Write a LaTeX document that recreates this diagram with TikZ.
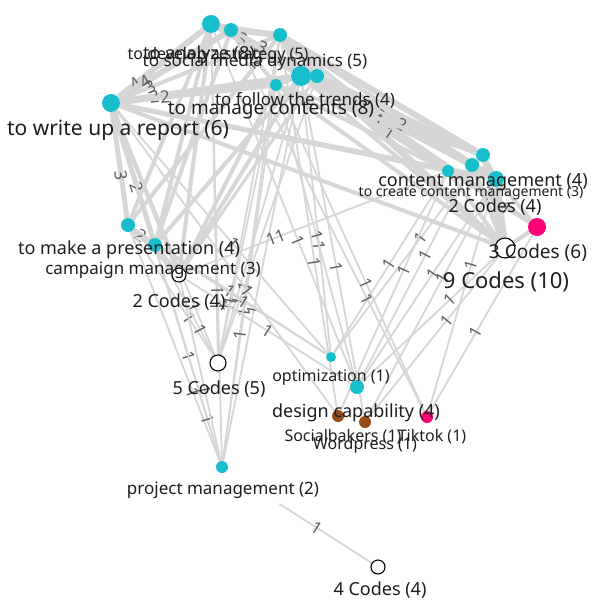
\documentclass[tikz,border=0pt]{standalone}
\usepackage{fontspec}
\setmainfont{Noto Sans}
\usetikzlibrary{backgrounds}
\definecolor{codecyan}{RGB}{23,190,204}
\definecolor{toolpink}{RGB}{255,0,120}
\definecolor{toolbrown}{RGB}{150,75,20}
\definecolor{linkgray}{RGB}{214,214,214}
\definecolor{numgray}{RGB}{95,95,95}
\definecolor{lblblack}{RGB}{30,30,30}

\begin{document}
\begin{tikzpicture}[x=1pt,y=-1pt,
  code/.style={circle,fill=codecyan,inner sep=0,minimum size=#1},
  tool/.style={circle,fill=toolpink,inner sep=0,minimum size=#1},
  soft/.style={circle,fill=toolbrown,inner sep=0,minimum size=#1},
  group/.style={circle,draw=black,fill=white,line width=1.1pt,inner sep=0,minimum size=#1},
  link/.style={draw=linkgray,line width=#1},
  num/.style={text=numgray,font=\fontsize{17}{17}\selectfont,inner sep=1pt,sloped},
  lbl/.style={text=lblblack,font=\fontsize{#1}{#1}\selectfont,inner sep=0}]
\useasboundingbox (0,0) rectangle (592,600);
% codes
\node[code=18] (analyze) at (211,24) {}; \node[code=14] (strategy) at (231,30) {};
\node[code=14] (social) at (280,35) {};
\node[code=20] (manage) at (301,76) {}; \node[code=14] (follow) at (317,76) {};
\node[code=12] (adapt) at (276,85) {};
\node[code=18] (report) at (111,103) {};
\node[code=14] (cmA) at (483,155) {}; \node[code=14] (cmB) at (472,165) {};
\node[code=12] (create) at (448,171) {}; \node[code=16] (content) at (496,179) {};
\node[code=14] (slides) at (128,225) {}; \node[code=14] (present) at (155,245) {};
\node[code=10] (optim) at (331,357) {}; \node[code=14] (design) at (357,387) {};
\node[code=12] (project) at (222,467) {};
% tools
\node[tool=18] (pinktool) at (537,227) {}; \node[tool=12] (tiktok) at (427,417) {};
\node[soft=12] (socialb) at (338,416) {}; \node[soft=12] (wordp) at (365,422) {};
% code groups
\node[group=14] (campaign) at (179,275) {};
\node[group=16] (five) at (218,363) {};
\node[group=20] (nine) at (505,248) {};
\node[group=14] (four) at (378,567) {};

\begin{scope}[on background layer]
% heavy links in the top cluster
\foreach \a/\b/\w in {analyze/strategy/6,analyze/social/4,strategy/social/6,analyze/manage/5,
  strategy/manage/5,social/manage/6,social/follow/5,adapt/manage/4,manage/follow/4,
  analyze/cmA/5,strategy/cmB/5,social/cmA/6,social/content/4,manage/cmA/7,manage/cmB/6,
  follow/content/7,follow/create/5,adapt/create/4,report/content/5,report/create/4,
  analyze/content/4,strategy/create/4,cmA/cmB/4,cmB/content/4,cmA/content/4,create/content/4,
  cmA/nine/5,cmB/nine/5,content/nine/7,create/nine/4,pinktool/nine/4,content/pinktool/4,
  manage/nine/4,report/nine/4,follow/nine/5,social/nine/4,adapt/nine/4,
  analyze/slides/4,analyze/present/4,strategy/present/4,social/slides/4,manage/present/4,
  manage/campaign/4,follow/campaign/3,adapt/campaign/4,analyze/campaign/4,report/campaign/4,
  slides/campaign/3,present/campaign/4}
  \draw[link=\w pt] (\a) -- (\b);
% labelled heavy links
\foreach \a/\b/\w/\t/\p in {report/analyze/6/4/.2,report/strategy/6/4/.25,report/social/4/3/.2,
  report/manage/7/2/.2,report/adapt/5/2/.3,report/slides/5/3/.6,report/present/5/2/.6,
  slides/present/4/2/.5,analyze/follow/4/3/.25,strategy/follow/4/3/.35,strategy/adapt/4/2/.6,
  social/create/4/2/.6,follow/cmB/4/2/.55,adapt/cmA/4/1/.5,manage/create/4/1/.6,
  follow/pinktool/4/2/.8,create/pinktool/4/1/.7}
  \draw[link=\w pt] (\a) -- node[num,pos=\p] {\t} (\b);
% thin links to the lower codes
\foreach \a/\b/\t/\p in {analyze/five/1/.85,social/five/1/.85,manage/five/1/.8,adapt/five/1/.8,
  report/five/1/.8,follow/five/1/.75,slides/five/1/.7,present/five/1/.75,
  analyze/project/1/.6,manage/project/1/.6,report/project/1/.7,slides/project/1/.7,
  present/project/1/.8,campaign/project/1/.6,adapt/project/1/.6,social/project/1/.7,
  manage/optim/1/.6,report/optim/1/.55,slides/optim/1/.5,present/optim/1/.5,cmA/optim/1/.4,
  create/optim/1/.5,adapt/design/1/.5,analyze/design/1/.6,cmB/design/1/.4,content/design/1/.45,
  campaign/design/1/.5,report/socialb/1/.6,social/socialb/1/.6,create/socialb/1/.4,
  manage/wordp/1/.55,content/wordp/1/.4,pinktool/tiktok/1/.55,content/tiktok/1/.35,
  strategy/tiktok/1/.7,adapt/tiktok/1/.6,nine/design/1/.35,nine/wordp/1/.4,campaign/create/11/.35}
  \draw[link=1.8pt] (\a) -- node[num,pos=\p] {\t} (\b);
\draw[link=1.8pt,shorten <=62pt] (project) -- node[num,pos=.62] {1} (four);
\end{scope}

% labels
\node[lbl=16] (t-strategy) at (218,55) {to develop a strategy (5)};
\node[lbl=18] (t-analyze) at (199,55) {to analyze (8)};
\node[lbl=17] (t-social) at (255,62) {to social media dynamics (5)};
\node[lbl=17] (t-follow) at (305,100) {to follow the trends (4)};
\node[lbl=19] (t-manage) at (271,110) {to manage contents (8)};
\node[lbl=21] (t-report) at (118,130) {to write up a report (6)};
\node[lbl=18] (t-content) at (483,182) {content management (4)};
\node[lbl=14] (t-create) at (471,193) {to create content management (3)};
\node[lbl=18] (t-twoR) at (495,207) {2 Codes (4)};
\node[lbl=19] (t-three) at (538,253) {3 Codes (6)};
\node[lbl=22] (t-nine) at (506,282) {9 Codes (10)};
\node[lbl=18] (t-present) at (129,250) {to make a presentation (4)};
\node[lbl=17] (t-campaign) at (153,270) {campaign management (3)};
\node[lbl=18] (t-twoL) at (179,302) {2 Codes (4)};
\node[lbl=18] (t-five) at (219,389) {5 Codes (5)};
\node[lbl=16] (t-optim) at (331,378) {optimization (1)};
\node[lbl=18] (t-design) at (356,413) {design capability (4)};
\node[lbl=16] (t-socialb) at (343,437) {Socialbakers (1)};
\node[lbl=16] (t-wordp) at (365,445) {Wordpress (1)};
\node[lbl=16] (t-tiktok) at (432,437) {Tiktok (1)};
\node[lbl=17] (t-project) at (223,490) {project management (2)};
\node[lbl=18] (t-four) at (380,590) {4 Codes (4)};
\end{tikzpicture}
\end{document}
